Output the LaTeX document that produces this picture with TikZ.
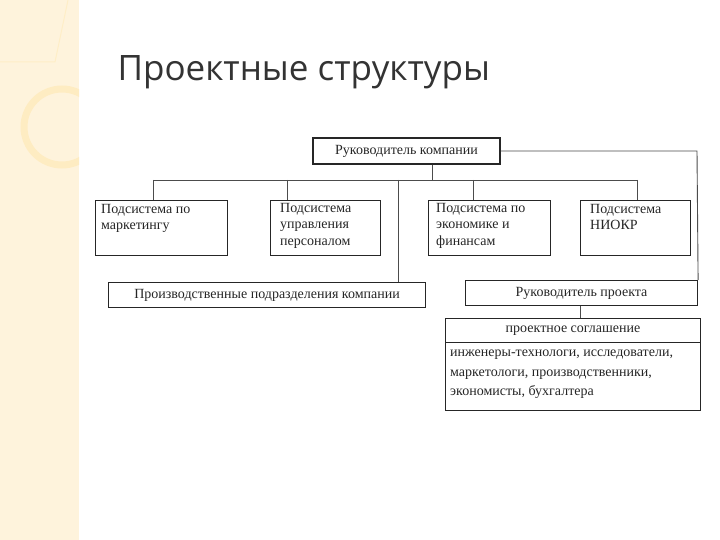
\documentclass[tikz,border=0pt]{standalone}
\usepackage{fontspec}
\setmainfont{Liberation Serif}
\newfontfamily\titlefont{Open Sans}
\begin{document}
\begin{tikzpicture}[x=1pt,y=-1pt,
  bx/.style={draw=black!85,line width=1.1pt,fill=white,inner sep=0pt},
  tx/.style={anchor=north west,inner sep=0pt,font=\fontsize{14}{16.5}\selectfont,text=black!85,align=left},
  ctx/.style={inner sep=0pt,font=\fontsize{14}{16}\selectfont,text=black!85},
  ln/.style={draw=black!70,line width=0.9pt}]
\useasboundingbox (0,0) rectangle (720,540);
\fill[white] (0,0) rectangle (720,540);
\fill[yellow!30!orange!12!white] (0,0) rectangle (79,540);
\begin{scope}
\clip (0,0) rectangle (79,540);
\draw[yellow!40!orange!22!white,line width=7pt] (62,127) circle (38);
\end{scope}
\draw[yellow!40!orange!20!white,line width=1pt] (0,62) -- (55,62) -- (68,0);
\node[anchor=west,font=\titlefont\fontsize{35}{38}\selectfont,text=black!80] (title) at (114,72) {Проектные структуры};
% boxes
\node[bx,minimum width=187,minimum height=26] (rk) at (406.5,151) {};
\node[ctx] (rkt) at (rk.center) {Руководитель компании};
\node[bx,anchor=north west,minimum width=132,minimum height=55] (b1) at (95,200) {};
\node[tx] (b1t) at (101,204) {Подсистема по\\маркетингу};
\node[bx,anchor=north west,minimum width=110,minimum height=55] (b2) at (270,200) {};
\node[tx] (b2t) at (280,203) {Подсистема\\управления\\персоналом};
\node[bx,anchor=north west,minimum width=122,minimum height=55] (b3) at (428,200) {};
\node[tx] (b3t) at (436,203) {Подсистема по\\экономике и\\финансам};
\node[bx,anchor=north west,minimum width=110,minimum height=55] (b4) at (580,200) {};
\node[tx] (b4t) at (590,204) {Подсистема\\НИОКР};
\node[bx,anchor=north west,minimum width=317,minimum height=25] (pr) at (108,282) {};
\node[ctx] (prt) at (pr.center) {Производственные подразделения компании};
\node[bx,anchor=north west,minimum width=232,minimum height=25] (rp) at (465,280) {};
\node[ctx] (rpt) at (rp.center) {Руководитель проекта};
\node[bx,anchor=north west,minimum width=255,minimum height=24] (ps) at (445,318) {};
\node[ctx] (pst) at (ps.center) {проектное соглашение};
\node[bx,anchor=north west,minimum width=255,minimum height=68] (ik) at (445,342) {};
\node[tx,font=\fontsize{14}{19.5}\selectfont] (ikt) at (450,350) {инженеры-технологи, исследователи,\\маркетологи, производственники,\\экономисты, бухгалтера};
% connectors
\coordinate (h) at (432,180);
\draw[ln] (rk.south -| h) -- (h);
\draw[ln] (153,180) -- (637,180);
\draw[ln] (153,180) -- (b1.north -| 153,0);
\draw[ln] (287,180) -- (b2.north -| 287,0);
\draw[ln] (398,180) -- (pr.north -| 398,0);
\draw[ln] (473,180) -- (b3.north -| 473,0);
\draw[ln] (637,180) -- (b4.north -| 637,0);
\draw[ln] (rk.east) -- (697,151) -- (rp.north east);
\draw[ln] (rp.south -| 580,0) -- (ps.north -| 580,0);
\end{tikzpicture}
\end{document}
